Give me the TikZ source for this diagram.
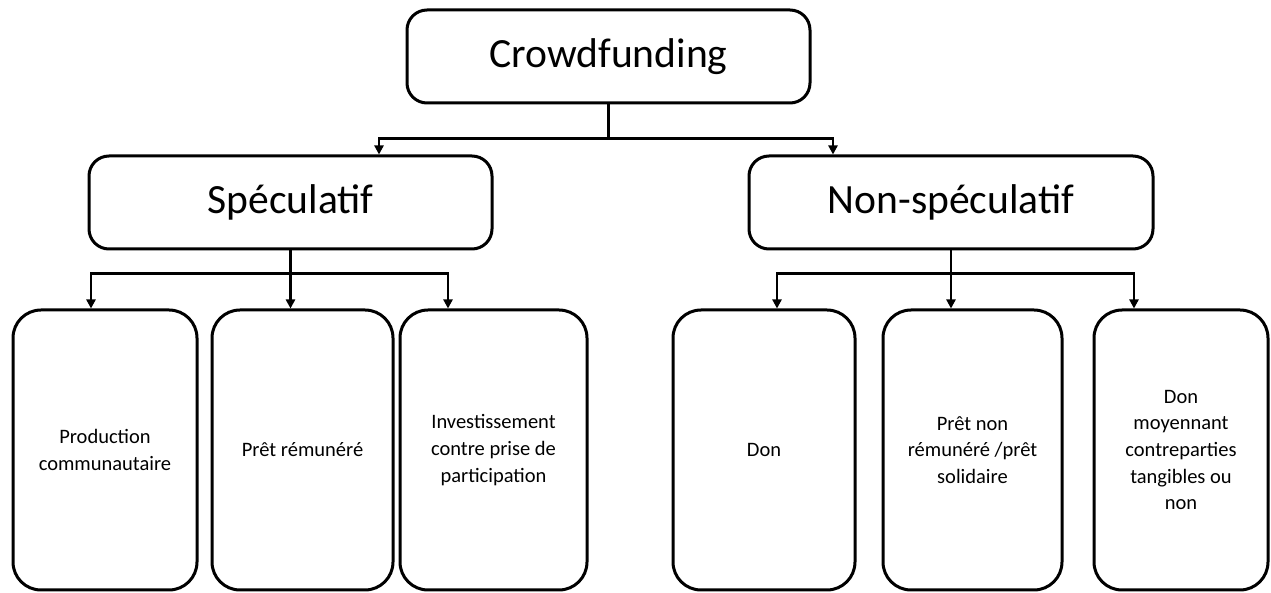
\documentclass[tikz,border=0pt]{standalone}
\usepackage{fontspec}
\setmainfont{Carlito}
\usetikzlibrary{positioning,calc,arrows.meta}
\tikzset{
  fund node/.style={draw=black,line width=1.5pt,fill=white,rounded corners=10pt,
    align=center,minimum width=201.5pt,minimum height=46.5pt,
    font=\fontsize{20.8}{25}\selectfont,inner sep=0pt},
  fund leaf/.style={draw=black,line width=1.5pt,fill=white,rounded corners=14pt,
    align=center,minimum height=140pt,
    font=\fontsize{10.25}{13.3}\selectfont,inner sep=0pt},
  fund arrow/.style={-{Triangle[length=4.5pt,width=4.5pt]},line width=1.4pt,draw=black}
}
\begin{document}
\begin{tikzpicture}[x=0.5pt,y=-0.5pt]
  \useasboundingbox (0,0) rectangle (1271,593);
  % niveau 1 et 2
  \node[fund node] (crowd) at (608.5,56.5) {Crowdfunding};
  \node[fund node] (spec) at (290.5,202.5) {Spéculatif};
  \node[fund node,minimum width=202pt] (nonspec) at (951,202.5) {Non-spéculatif};
  % formes
  \node[fund leaf,minimum width=92pt] (prod) at (105,450) {Production\\communautaire};
  \node[fund leaf,minimum width=90.5pt] (pret) at (302.5,450) {Prêt rémunéré};
  \node[fund leaf,minimum width=93.5pt] (invest) at (493.5,450) {Investissement\\contre prise de\\participation};
  \node[fund leaf,minimum width=91pt] (don) at (764,450) {Don};
  \node[fund leaf,minimum width=89.5pt] (solid) at (972.5,450) {Prêt non\\rémunéré /prêt\\solidaire};
  \node[fund leaf,minimum width=87pt] (contre) at (1181,450) {Don\\moyennant\\contreparties\\tangibles ou\\non};
  % liens
  \draw[fund arrow] (crowd.south) -- ++(0,34) -| ([xshift=44.25pt]spec.north);
  \draw[fund arrow] (crowd.south) -- ++(0,34) -| ([xshift=-59pt]nonspec.north);
  \draw[fund arrow] (spec.south) -- ++(0,23) -| ([xshift=-7pt]prod.north);
  \draw[fund arrow] (spec.south) -- ++(0,23) -| ([xshift=-6pt]pret.north);
  \draw[fund arrow] (spec.south) -- ++(0,23) -| ([xshift=-22.75pt]invest.north);
  \draw[fund arrow] (nonspec.south) -- ++(0,23) -| ([xshift=6.5pt]don.north);
  \draw[fund arrow] (nonspec.south) -- ++(0,23) -| ([xshift=-10.75pt]solid.north);
  \draw[fund arrow] (nonspec.south) -- ++(0,23) -| ([xshift=-23.5pt]contre.north);
\end{tikzpicture}
\end{document}
